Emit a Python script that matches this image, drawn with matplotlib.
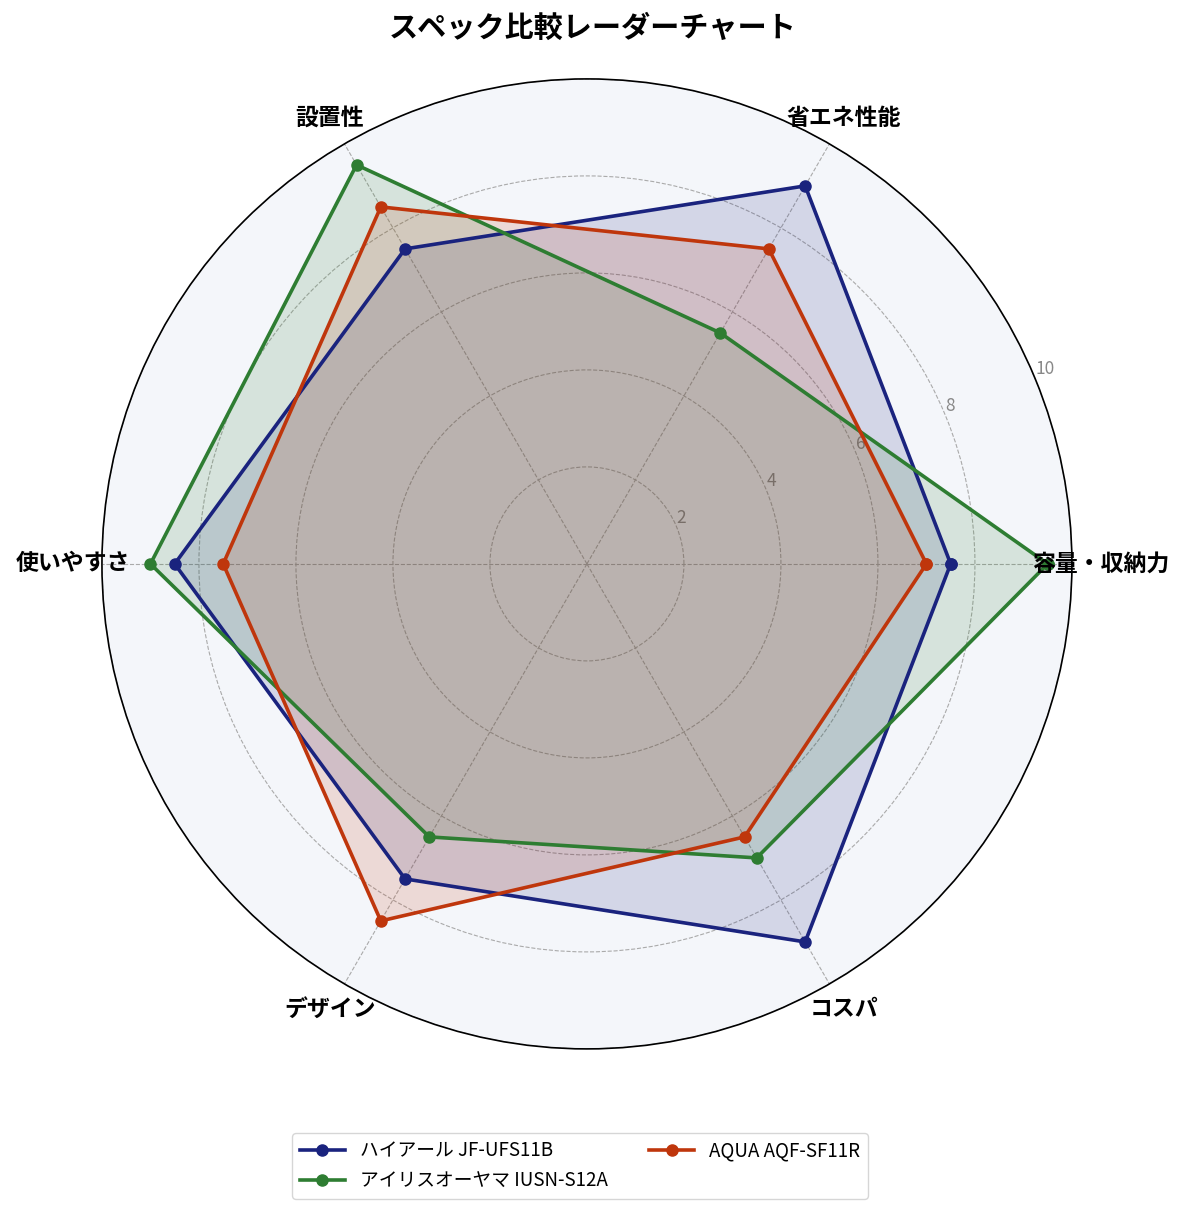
import numpy as np
import matplotlib
matplotlib.use("Agg")
import matplotlib.pyplot as plt

plt.rcParams['font.family'] = ['Noto Sans CJK JP', 'DejaVu Sans']

categories = ["容量・収納力", "省エネ性能", "設置性", "使いやすさ", "デザイン", "コスパ"]
haier = [7.5, 9.0, 7.5, 8.5, 7.5, 9.0]
iris = [9.5, 5.5, 9.5, 9.0, 6.5, 7.0]
aqua = [7.0, 7.5, 8.5, 7.5, 8.5, 6.5]
series_names = ["ハイアール JF-UFS11B", "アイリスオーヤマ IUSN-S12A", "AQUA AQF-SF11R"]
colors = ["#1a237e", "#2e7d32", "#bf360c"]
r_ticks = [2, 4, 6, 8, 10]

fig = plt.figure(figsize=(11.85, 12.14), dpi=100)
ax = fig.add_axes([0.086, 0.136, 0.8186, 0.799], projection='polar')
ax.set_facecolor("#f4f6fa")

n = len(categories)
angles = np.linspace(0, 2 * np.pi, n, endpoint=False)
closed = np.concatenate([angles, angles[:1]])

for vals, name, c in zip([haier, iris, aqua], series_names, colors):
    v = list(vals) + [vals[0]]
    ax.plot(closed, v, color=c, linewidth=2.6, marker='o', markersize=8, label=name, zorder=3)
    ax.fill(closed, v, color=c, alpha=0.15, zorder=2)

ax.set_ylim(0, 10)
ax.set_yticks(r_ticks)
ax.set_yticklabels([str(t) for t in r_ticks], color="#888888", fontsize=12.5)
ax.set_rlabel_position(22.5)
ax.set_xticks(angles)
ax.set_xticklabels([])
ax.grid(True, linestyle='--', color='#aaaaaa', linewidth=0.8)
ax.spines['polar'].set_color('black')
ax.spines['polar'].set_linewidth(1.2)

for a, lab in zip(angles, categories):
    ax.text(a, 10.6, lab, ha='center', va='center', fontsize=16.5, fontweight='bold', zorder=5)

fig.text(0.5, 0.977, "スペック比較レーダーチャート", ha='center', va='center', fontsize=21, fontweight='bold')

fig.legend(loc='center', bbox_to_anchor=(0.4895, 0.0395), ncol=2, fontsize=13.5, frameon=True,
           edgecolor='#cccccc', columnspacing=2.2, handlelength=2.4)

fig.savefig("out.png", dpi=100)
